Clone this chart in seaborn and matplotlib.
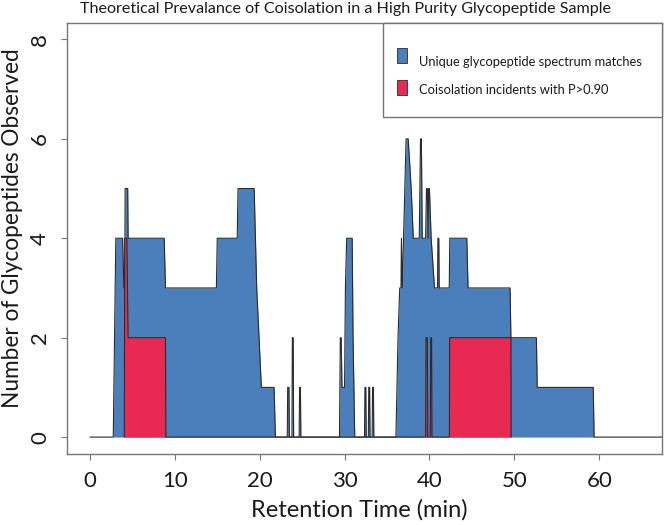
import matplotlib
matplotlib.use("Agg")
import matplotlib.pyplot as plt
import seaborn as sns
import pandas as pd
from matplotlib.patches import Rectangle

# ---------------- data ----------------
title = "Theoretical Prevalance of Coisolation in a High Purity Glycopeptide Sample"
x_label = "Retention Time (min)"
y_label = "Number of Glycopeptides Observed"
legend_labels = ["Unique glycopeptide spectrum matches", "Coisolation incidents with P>0.90"]
x_ticks = [0, 10, 20, 30, 40, 50, 60]
y_ticks = [0, 2, 4, 6, 8]

# unique glycopeptide spectrum matches (count vs retention time)
unique_time = [0, 2.75, 3.05, 3.85, 4.0, 4.1, 4.15, 4.45, 4.5, 8.75, 8.9, 14.9, 15.0, 17.35, 17.45,
               19.35, 19.5, 19.65, 20.2, 21.7, 21.85,
               23.25, 23.3, 23.45, 23.5, 23.8, 23.85, 23.95, 24.0, 24.65, 24.7, 24.8, 24.85,
               29.4, 29.5, 29.6, 29.7, 30.0, 30.1, 30.25, 30.9, 31.0, 31.2,
               32.35, 32.4, 32.5, 32.55, 32.8, 32.85, 32.95, 33.0, 33.25, 33.3, 33.4, 33.45,
               36.05, 36.3, 36.5, 36.65, 36.7, 36.8, 36.95, 37.25, 37.5, 37.85, 38.1, 38.8,
               38.95, 39.05, 39.15, 39.55, 39.65, 39.75, 39.85, 39.9, 40.0, 40.2, 40.6, 40.95,
               41.0, 41.1, 41.15, 42.33, 42.4, 44.4, 44.55, 49.5, 49.6, 52.6, 52.7, 59.3, 59.4, 70]
unique_count = [0, 0, 4, 4, 3, 3, 5, 5, 4, 4, 3, 3, 4, 4, 5,
                5, 4, 3, 1, 1, 0,
                0, 1, 1, 0, 0, 2, 2, 0, 0, 1, 1, 0,
                0, 2, 2, 1, 1, 3, 4, 4, 2, 0,
                0, 1, 1, 0, 0, 1, 1, 0, 0, 1, 1, 0,
                0, 2, 3, 3, 4, 3, 4, 6, 6, 5, 4, 4,
                6, 6, 4, 4, 5, 5, 4, 5, 5, 4, 3, 3,
                4, 4, 3, 3, 4, 4, 3, 3, 2, 2, 1, 1, 0, 0]

# coisolation incidents with P > 0.90
coiso_time = [4.05, 4.1, 4.35, 4.5, 8.9, 8.95,
              39.55, 39.6, 39.75, 39.8, 40.1, 40.15, 40.25, 40.3,
              42.35, 42.38, 49.6, 49.62]
coiso_count = [0, 4, 4, 2, 2, 0,
               0, 2, 2, 0, 0, 2, 2, 0,
               0, 2, 2, 0]

# ---------------- style ----------------
sns.set_style("white")
plt.rcParams["font.family"] = ["Lato", "DejaVu Sans"]

blue = "#4A7FBB"
red = "#E82A52"
edge = "#2b2b2b"
frame = "#7a756f"

fig = plt.figure(figsize=(6.66, 5.25), dpi=100)
ax = fig.add_axes([67 / 666, 1 - 454 / 525, 595 / 666, 431 / 525])

df_u = pd.DataFrame({"time": unique_time, "count": unique_count})
df_c = pd.DataFrame({"time": coiso_time, "count": coiso_count})

ax.fill_between(df_u["time"], df_u["count"], 0, color=blue, linewidth=0, zorder=2)
sns.lineplot(data=df_u, x="time", y="count", sort=False, estimator=None,
             color=edge, linewidth=0.8, ax=ax, zorder=3)
ax.fill_between(df_c["time"], df_c["count"], 0, color=red, linewidth=0, zorder=4)
sns.lineplot(data=df_c, x="time", y="count", sort=False, estimator=None,
             color=edge, linewidth=0.8, ax=ax, zorder=5)

ax.set_xlim(-2.7, 67.4)
ax.set_ylim(-0.34, 8.33)
ax.set_xticks(x_ticks)
ax.set_yticks(y_ticks)
ax.set_xticklabels([str(t) for t in x_ticks], fontsize=16, color="#1a1a1a")
ax.set_yticklabels([str(t) for t in y_ticks], fontsize=16, color="#1a1a1a",
                   rotation=90, va="center")
ax.tick_params(axis="both", direction="out", length=4.3, width=0.8, color=frame,
               bottom=True, left=True)
ax.tick_params(axis="x", pad=8)
ax.tick_params(axis="y", pad=8)

for s in ax.spines.values():
    s.set_visible(True)
    s.set_color(frame)
    s.set_linewidth(1.0)

ax.set_xlabel(x_label, fontsize=17, color="#1a1a1a")
ax.set_ylabel(y_label, fontsize=16.3, color="#1a1a1a")
ax.xaxis.set_label_coords(0.492, -0.13)
ax.xaxis.label.set_va("center")
ax.yaxis.set_label_coords(-0.0908, 0.524)
ax.yaxis.label.set_va("center")

fig.text(346 / 666, 1 - 9 / 525, title, ha="center", va="center", fontsize=11.6, color="#1a1a1a")

# legend box (R-style)
ax.add_patch(Rectangle((0.531, 0.782), 0.469, 0.218, transform=ax.transAxes,
                       facecolor="white", edgecolor=frame, linewidth=1.0, zorder=10, clip_on=False))
ax.add_patch(Rectangle((0.5546, 0.907), 0.0168, 0.035, transform=ax.transAxes,
                       facecolor=blue, edgecolor=edge, linewidth=0.6, zorder=11))
ax.add_patch(Rectangle((0.5546, 0.833), 0.0168, 0.035, transform=ax.transAxes,
                       facecolor=red, edgecolor=edge, linewidth=0.6, zorder=11))
ax.text(0.5916, 0.9095, legend_labels[0], transform=ax.transAxes, ha="left", va="center",
        fontsize=9.3, color="#1a1a1a", zorder=12)
ax.text(0.5916, 0.8445, legend_labels[1], transform=ax.transAxes, ha="left", va="center",
        fontsize=9.3, color="#1a1a1a", zorder=12)

fig.savefig("out.png", dpi=100)
